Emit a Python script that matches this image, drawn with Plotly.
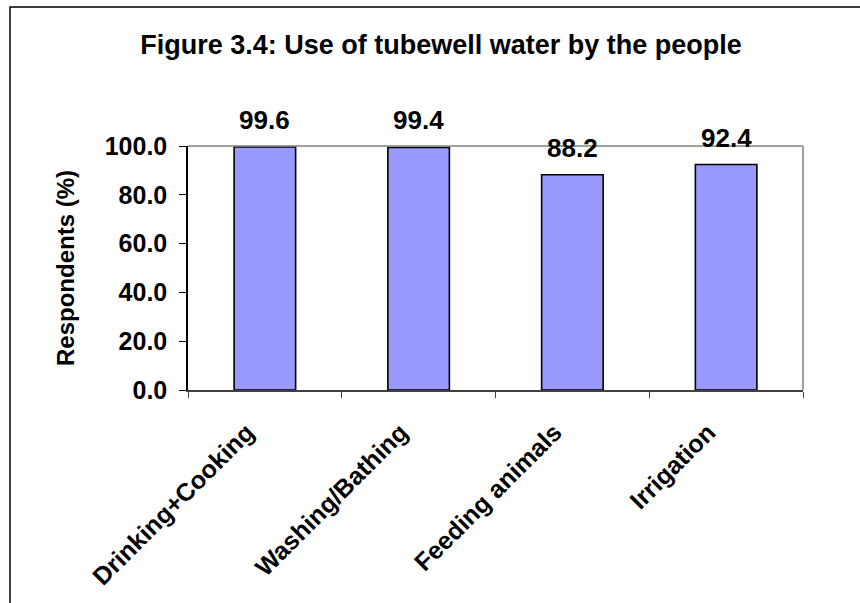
import plotly.graph_objects as go

# Survey results: share of respondents using tubewell water for each purpose
categories = ["Drinking+Cooking", "Washing/Bathing", "Feeding animals", "Irrigation"]
respondents_pct = [99.6, 99.4, 88.2, 92.4]
y_ticks = [0, 20, 40, 60, 80, 100]
y_tick_labels = ["0.0", "20.0", "40.0", "60.0", "80.0", "100.0"]

FONT = "Liberation Sans, Arial, sans-serif"

W, H = 860, 603
L, R, T, B = 188, 57, 146, 213
pw = W - L - R
ph = H - T - B

fig = go.Figure()
fig.add_trace(go.Bar(
    x=categories,
    y=respondents_pct,
    width=0.4,
    marker=dict(color="#9999FF", line=dict(color="#000000", width=1.6)),
    hoverinfo="x+y",
))

# value labels above each bar
for cat, val in zip(categories, respondents_pct):
    fig.add_annotation(
        x=cat, y=val, text=f"<b>{val:.1f}</b>", showarrow=False,
        yanchor="bottom", yshift=10,
        font=dict(family=FONT, size=26, color="#000000"),
    )

# y axis title
fig.add_annotation(
    xref="paper", yref="paper", x=(65 - L) / pw, y=0.5,
    text="<b>Respondents (%)</b>", textangle=-90, showarrow=False,
    xanchor="center", yanchor="middle",
    font=dict(family=FONT, size=24, color="#000000"),
)

shapes = [
    # outer chart frame (extends past the right and bottom edges)
    dict(type="rect", xref="paper", yref="paper",
         x0=(10 - L) / pw, x1=(880 - L) / pw,
         y0=-(H + 20 - T - ph) / ph, y1=(H - B - 7) / ph,
         line=dict(color="#000000", width=1.5), layer="below"),
    # plot area frame, top and right edges
    dict(type="line", xref="paper", yref="paper", x0=0, x1=1, y0=1, y1=1,
         line=dict(color="#808080", width=1.5)),
    dict(type="line", xref="paper", yref="paper", x0=1, x1=1, y0=0, y1=1,
         line=dict(color="#808080", width=1.5)),
]

fig.update_layout(
    width=W, height=H,
    margin=dict(l=L, r=R, t=T, b=B),
    paper_bgcolor="#FFFFFF", plot_bgcolor="#FFFFFF",
    showlegend=False,
    shapes=shapes,
    title=dict(
        text="<b>Figure 3.4: Use of tubewell water by the people</b>",
        xref="container", yref="container",
        x=441 / W, y=1 - 45 / H, xanchor="center", yanchor="middle",
        font=dict(family=FONT, size=27, color="#000000"),
    ),
    xaxis=dict(
        type="category",
        tickvals=categories, ticktext=[f"<b>{c}</b>" for c in categories],
        showline=True, linecolor="#404040", linewidth=1.5,
        ticks="outside", tickson="boundaries", ticklen=6, tickwidth=1.2, tickcolor="#404040",
        tickangle=-45, ticklabelstandoff=16, ticklabelshift=-18,
        tickfont=dict(family=FONT, size=25, color="#000000"),
        showgrid=False,
    ),
    yaxis=dict(
        range=[0, 100],
        tickvals=y_ticks, ticktext=[f"<b>{t}</b>" for t in y_tick_labels],
        showline=True, linecolor="#000000", linewidth=1.5,
        ticks="outside", ticklen=7, tickwidth=1.2, tickcolor="#000000",
        ticklabelstandoff=7,
        tickfont=dict(family=FONT, size=25, color="#000000"),
        showgrid=False, zeroline=False,
    ),
)

fig.write_html("out.html")
